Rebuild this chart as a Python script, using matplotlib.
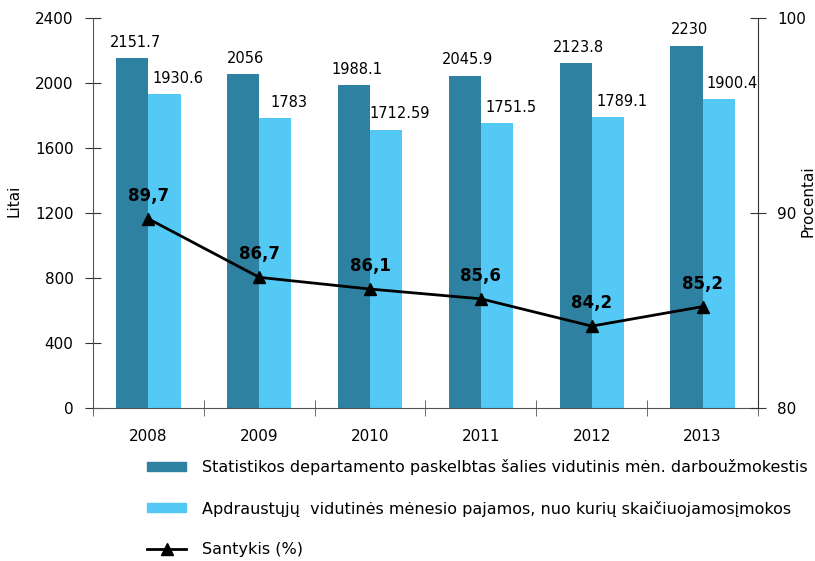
import matplotlib.pyplot as plt
import numpy as np
from matplotlib.lines import Line2D
from matplotlib.patches import Patch

plt.rcParams['font.family'] = ['DejaVu Sans']

years = ['2008', '2009', '2010', '2011', '2012', '2013']
salary = [2151.7, 2056, 1988.1, 2045.9, 2123.8, 2230]
insured = [1930.6, 1783, 1712.59, 1751.5, 1789.1, 1900.4]
salary_labels = ['2151.7', '2056', '1988.1', '2045.9', '2123.8', '2230']
insured_labels = ['1930.6', '1783', '1712.59', '1751.5', '1789.1', '1900.4']
ratio = [89.7, 86.7, 86.1, 85.6, 84.2, 85.2]
ratio_labels = ['89,7', '86,7', '86,1', '85,6', '84,2', '85,2']

dark = '#2e81a0'
light = '#55c9f5'

fig = plt.figure(figsize=(8.15, 5.61), dpi=100)
ax = fig.add_axes([0.1141, 0.2727, 0.8159, 0.6953])
x = np.arange(len(years))
w = 0.29

ax.bar(x - w / 2, salary, w, color=dark)
ax.bar(x + w / 2, insured, w, color=light)
for i in range(len(years)):
    ax.annotate(salary_labels[i], (x[i] - w / 2, salary[i]), xytext=(2, 6),
                textcoords='offset points', ha='center', va='bottom', fontsize=10.5)
    ax.annotate(insured_labels[i], (x[i] + w / 2, insured[i]), xytext=(10, 6),
                textcoords='offset points', ha='center', va='bottom', fontsize=10.5)

ax.set_xlim(-0.5, 5.5)
ax.set_ylim(0, 2400)
ax.set_yticks(range(0, 2401, 400))
ax.set_xticks(x)
ax.set_xticklabels(years)
ax.set_xticks(np.arange(-0.5, 5.6, 1), minor=True)
ax.tick_params(axis='x', which='major', length=0, pad=15, labelsize=11)
ax.tick_params(axis='x', which='minor', direction='inout', length=12, color='#555555')
ax.tick_params(axis='y', direction='inout', length=12, labelsize=11, color='#333333', pad=8)
for s in ['top', 'right']:
    ax.spines[s].set_visible(False)
ax.spines['left'].set_color('#555555')
ax.spines['bottom'].set_color('#555555')
ax.set_ylabel('Litai', fontsize=11)
ax.yaxis.set_label_coords(-0.108, 0.53)

ax2 = ax.twinx()
ax2.set_ylim(80, 100)
ax2.set_yticks([80, 90, 100])
ax2.plot(x, ratio, color='black', lw=2, marker='^', ms=8)
for i in range(len(years)):
    ax2.annotate(ratio_labels[i], (x[i], ratio[i]), xytext=(0, 10),
                 textcoords='offset points', ha='center', va='bottom',
                 fontsize=12, fontweight='bold')
ax2.tick_params(axis='y', direction='inout', length=12, labelsize=11, color='#333333', pad=8)
for s in ['top', 'left', 'bottom']:
    ax2.spines[s].set_visible(False)
ax2.spines['right'].set_color('#333333')
ax2.set_ylabel('Procentai', fontsize=11)
ax2.yaxis.set_label_coords(1.064, 0.53)

handles = [
    Patch(color=dark),
    Patch(color=light),
    Line2D([], [], color='black', lw=2, marker='^', ms=8),
]
labels = [
    'Statistikos departamento paskelbtas šalies vidutinis mėn. darboužmokestis',
    'Apdraustųjų  vidutinės mėnesio pajamos, nuo kurių skaičiuojamosįmokos',
    'Santykis (%)',
]
fig.legend(handles, labels, loc='upper left', bbox_to_anchor=(0.170, 0.196),
           frameon=False, fontsize=11.5, handlelength=2.5, handleheight=0.5,
           labelspacing=1.6, handletextpad=0.95, borderpad=0)

fig.savefig('out.png', dpi=100)
